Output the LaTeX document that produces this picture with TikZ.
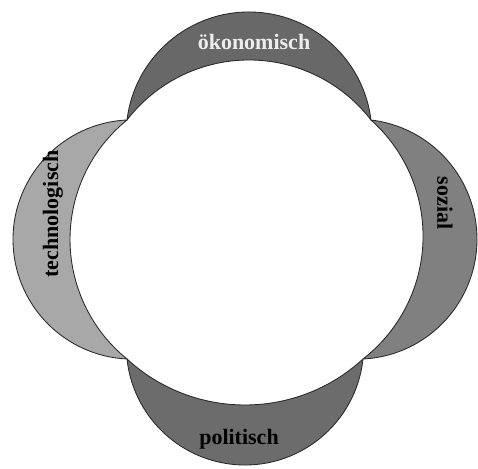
\documentclass[tikz,border=0pt]{standalone}
\usepackage{fontspec}
\setmainfont{Liberation Serif}
\definecolor{topgray}{RGB}{104,104,104}
\definecolor{botgray}{RGB}{108,108,108}
\definecolor{leftgray}{RGB}{168,168,168}
\definecolor{rightgray}{RGB}{128,128,128}
\definecolor{outline}{RGB}{40,40,40}
\begin{document}
\begin{tikzpicture}[x=1pt,y=1pt,
  lune/.style={draw=outline, line width=0.85pt, line join=miter},
  lbl/.style={font=\fontsize{22}{22}\selectfont\bfseries, inner sep=0pt}]
\useasboundingbox (0,0) rectangle (478,468);
% top lune
\path[lune, fill=topgray] (127,348)
  arc[start angle=173.04, end angle=6.96, radius=122.9pt]
  arc[start angle=37.62, end angle=142.38, radius=154.03pt] -- cycle;
% bottom lune
\path[lune, fill=botgray] (363,109)
  arc[start angle=-6.13, end angle=-173.87, radius=118.68pt]
  arc[start angle=227.41, end angle=312.59, radius=174.35pt] -- cycle;
% left lune
\path[lune, fill=leftgray] (127,348)
  arc[start angle=92.70, end angle=267.30, radius=119.63pt]
  arc[start angle=230.99, end angle=129.01, radius=153.77pt] -- cycle;
% right lune
\path[lune, fill=rightgray] (363,109)
  arc[start angle=-87.14, end angle=83.31, radius=119.98pt]
  arc[start angle=48.28, end angle=-52.11, radius=155.65pt] -- cycle;
% labels
\node[lbl, text=white!93!black] (oek) at (254,426) {ökonomisch};
\node[lbl, rotate=90] (tech) at (53,254) {technologisch};
\node[lbl, rotate=-90] (soz) at (445,265) {sozial};
\node[lbl] (pol) at (239,29) {politisch};
\end{tikzpicture}
\end{document}
